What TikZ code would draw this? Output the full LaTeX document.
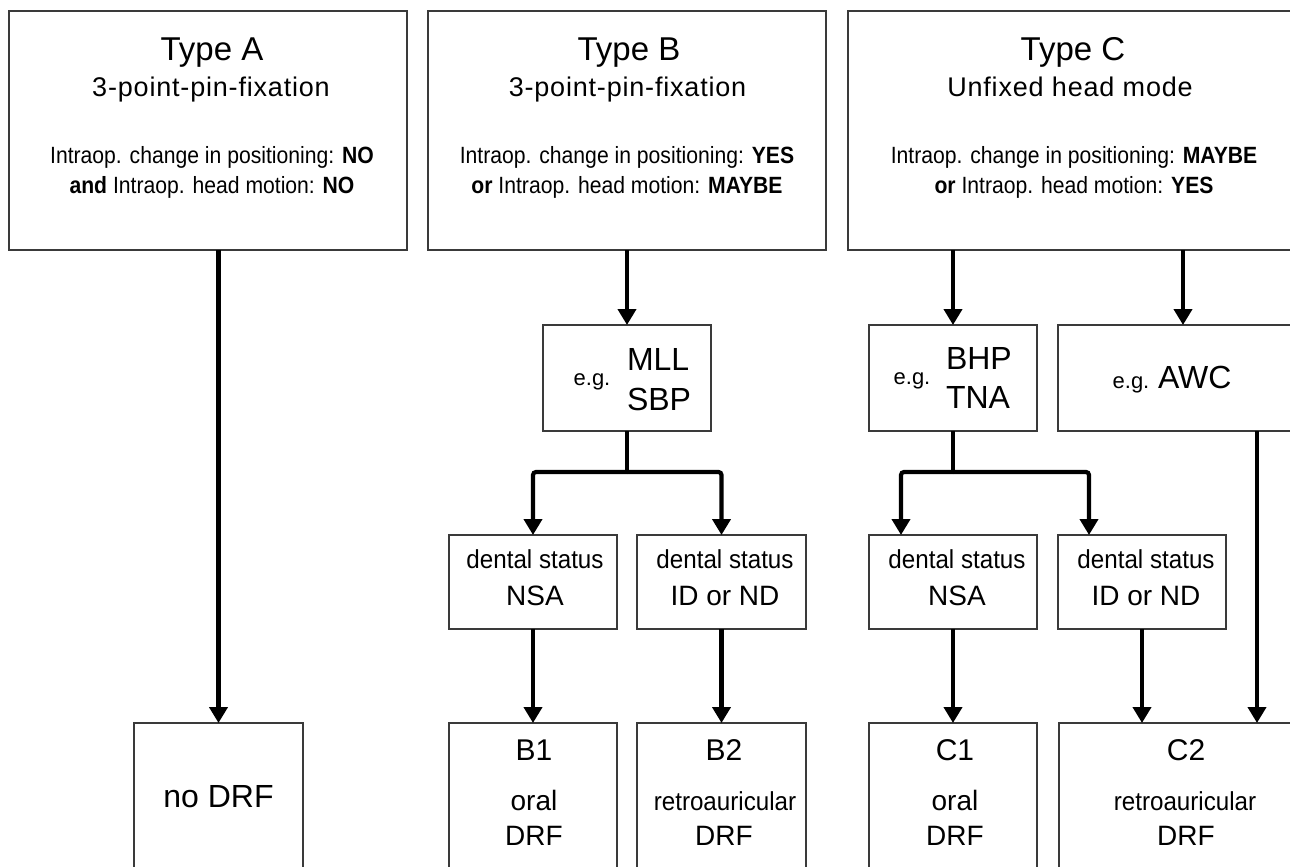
\documentclass[tikz,border=0pt]{standalone}
\usepackage{fontspec}
\setmainfont{Liberation Sans}
\newfontfamily\spacedfont[LetterSpace=3]{Liberation Sans}
\newfontfamily\narrowfont[FakeStretch=0.9]{Liberation Sans}
\newfontfamily\narrowerfont[FakeStretch=0.93]{Liberation Sans}
\usetikzlibrary{arrows.meta}
\newcommand\myfs[1]{\fontsize{#1}{#1}\selectfont}
\definecolor{boxgray}{HTML}{3A3A3A}
\begin{document}
\begin{tikzpicture}[x=1pt,y=-1pt,
  box/.style={draw=boxgray, line width=1.4pt, inner sep=0pt, outer sep=0pt, fill=white},
  txt/.style={inner sep=0pt, outer sep=0pt, anchor=base},
  txtw/.style={inner sep=0pt, outer sep=0pt, anchor=base west},
  arr/.style={line width=4.2pt, -{Triangle[width=18pt,length=16pt]}},
  ln/.style={line width=4.2pt},
  cond/.style={font=\narrowfont\myfs{23.5}},
  dent/.style={font=\narrowerfont\myfs{26}},
]
\path[use as bounding box] (0,0) rectangle (1290,867);
\clip (0,0) rectangle (1290,867);
\fill[white] (0,0) rectangle (1290,867);

% top boxes
\node[box, minimum width=398pt, minimum height=239pt] (A) at (208,130.5) {};
\node[box, minimum width=398pt, minimum height=239pt] (B) at (627,130.5) {};
\node[box, minimum width=450pt, minimum height=239pt] (C) at (1073,130.5) {};

% middle boxes
\node[box, minimum width=168pt, minimum height=106pt] (MLL) at (627,378) {};
\node[box, minimum width=168pt, minimum height=106pt] (BHP) at (953,378) {};
\node[box, minimum width=250pt, minimum height=106pt] (AWC) at (1183,378) {};

% dental boxes
\node[box, minimum width=168pt, minimum height=94pt] (dBn) at (533,582) {};
\node[box, minimum width=169pt, minimum height=94pt] (dBi) at (721.5,582) {};
\node[box, minimum width=168pt, minimum height=94pt] (dCn) at (953,582) {};
\node[box, minimum width=168pt, minimum height=94pt] (dCi) at (1142,582) {};

% bottom boxes
\node[box, minimum width=169pt, minimum height=157pt] (noDRF) at (218.5,801.5) {};
\node[box, minimum width=168pt, minimum height=157pt] (B1) at (533,801.5) {};
\node[box, minimum width=169pt, minimum height=157pt] (B2) at (721.5,801.5) {};
\node[box, minimum width=168pt, minimum height=157pt] (C1) at (953,801.5) {};
\node[box, minimum width=251pt, minimum height=157pt] (C2) at (1184.5,801.5) {};

% texts type A
\node[txt] (tA1) at (212,60) {\myfs{33}Type A};
\node[txt] (tA2) at (211,96) {\spacedfont\myfs{27}3-point-pin-fixation};
\node[txt, cond] (tA3) at (212,163) {Intraop. change in positioning: \textbf{NO}};
\node[txt, cond] (tA4) at (212,193) {\textbf{and} Intraop. head motion: \textbf{NO}};
% type B
\node[txt] (tB1) at (629,60) {\myfs{33}Type B};
\node[txt] (tB2) at (627.5,96) {\spacedfont\myfs{27}3-point-pin-fixation};
\node[txt, cond] (tB3) at (627,163) {Intraop. change in positioning: \textbf{YES}};
\node[txt, cond] (tB4) at (627,193) {\textbf{or} Intraop. head motion: \textbf{MAYBE}};
% type C
\node[txt] (tC1) at (1073,60) {\myfs{33}Type C};
\node[txt] (tC2) at (1070,96) {\spacedfont\myfs{27}Unfixed head mode};
\node[txt, cond] (tC3) at (1074,163) {Intraop. change in positioning: \textbf{MAYBE}};
\node[txt, cond] (tC4) at (1074,193) {\textbf{or} Intraop. head motion: \textbf{YES}};

% middle texts
\node[txt] (eg1) at (592,385) {\myfs{22}e.g.};
\node[txtw] (mll) at (627,370) {\myfs{32}MLL};
\node[txtw] (sbp) at (627,410) {\myfs{32}SBP};
\node[txt] (eg2) at (912,384) {\myfs{22}e.g.};
\node[txtw] (bhp) at (946,369) {\myfs{32}BHP};
\node[txtw] (tna) at (946,408) {\myfs{32}TNA};
\node[txt] (eg3) at (1131,388) {\myfs{22}e.g.};
\node[txtw] (awc) at (1158,388) {\myfs{32}AWC};

% dental texts
\node[txt, dent] (d1a) at (535,568) {dental status};
\node[txt] (d1b) at (535,605) {\myfs{28}NSA};
\node[txt, dent] (d2a) at (725,568) {dental status};
\node[txt] (d2b) at (725,605) {\myfs{28}ID or ND};
\node[txt, dent] (d3a) at (957,568) {dental status};
\node[txt] (d3b) at (957,605) {\myfs{28}NSA};
\node[txt, dent] (d4a) at (1146,568) {dental status};
\node[txt] (d4b) at (1146,605) {\myfs{28}ID or ND};

% bottom texts
\node[txt] (nd) at (218.5,807) {\myfs{32}no DRF};
\node[txt] (b1a) at (534,760) {\myfs{30}B1};
\node[txt] (b1b) at (534,810) {\myfs{28}oral};
\node[txt] (b1c) at (534,845) {\myfs{28}DRF};
\node[txt] (b2a) at (724,760) {\myfs{30}B2};
\node[txt, dent] (b2b) at (725,810) {retroauricular};
\node[txt] (b2c) at (724,845) {\myfs{28}DRF};
\node[txt] (c1a) at (955,760) {\myfs{30}C1};
\node[txt] (c1b) at (955,810) {\myfs{28}oral};
\node[txt] (c1c) at (955,845) {\myfs{28}DRF};
\node[txt] (c2a) at (1186,760) {\myfs{30}C2};
\node[txt, dent] (c2b) at (1185,810) {retroauricular};
\node[txt] (c2c) at (1186,845) {\myfs{28}DRF};

% connectors
\draw[arr] (noDRF.north |- A.south) -- (noDRF.north);
\draw[arr] (B.south -| MLL.north) -- (MLL.north);
\draw[arr] (BHP.north |- C.south) -- (BHP.north);
\draw[arr] (AWC.north |- C.south) -- (AWC.north);

\coordinate (fB) at (MLL.south |- 0,472);
\draw[ln] (MLL.south) -- (fB);
\draw[arr, rounded corners=3pt] (fB) -| (dBn.north);
\draw[arr, rounded corners=3pt] (fB) -| (dBi.north);

\coordinate (fC) at (BHP.south |- 0,472);
\draw[ln] (BHP.south) -- (fC);
\draw[arr, rounded corners=3pt] (fC) -| ([xshift=-52pt]dCn.north);
\draw[arr, rounded corners=3pt] (fC) -| ([xshift=-53pt]dCi.north);

\draw[arr] (dBn.south) -- (dBn.south |- B1.north);
\draw[arr] (dBi.south) -- (dBi.south |- B2.north);
\draw[arr] (dCn.south) -- (dCn.south |- C1.north);
\draw[arr] (dCi.south) -- (dCi.south |- C2.north);
\draw[arr] ([xshift=74pt]AWC.south) -- ([xshift=74pt]AWC.south |- C2.north);
\end{tikzpicture}
\end{document}
